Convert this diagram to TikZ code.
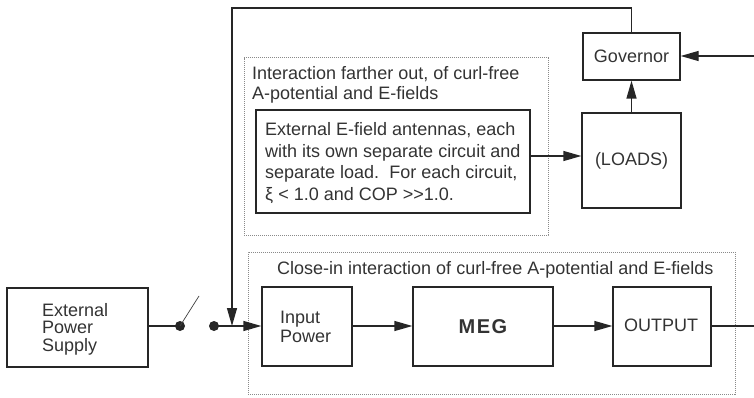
\documentclass[tikz,border=0pt]{standalone}
\usepackage{fontspec}
\setmainfont{Liberation Sans}
\usetikzlibrary{arrows.meta}
\definecolor{ink}{HTML}{333333}
\definecolor{dotc}{HTML}{8A8A8A}
\tikzset{
  blk/.style={draw=black!85, line width=1.3pt, inner sep=0pt},
  zone/.style={draw=dotc, line width=1pt, dash pattern=on 1.2pt off 0.8pt, inner sep=0pt},
  lbl/.style={text=ink, font=\fontsize{18}{21.7}\selectfont, inner sep=0pt, align=left},
  wire/.style={draw=black!85, line width=1.3pt},
  arr/.style={wire, -{Triangle[length=18pt,width=10pt]}},
  dotn/.style={circle, fill=black!85, minimum size=10pt, inner sep=0pt},
}
\begin{document}
\begin{tikzpicture}[x=1pt,y=-1pt]
\useasboundingbox (0,0) rectangle (754,398);
% zones
\node[zone, minimum width=304pt, minimum height=177pt] (far) at (396,146.5) {};
\node[zone, minimum width=487pt, minimum height=142pt] (close) at (491.5,323) {};
\node[lbl, font=\fontsize{18}{20}\selectfont, anchor=west] (fart) at (252,85) {Interaction farther out, of curl-free\\A-potential and E-fields};
\node[lbl, anchor=west] (closet) at (277,270) {Close-in interaction of curl-free A-potential and E-fields};
% boxes
\node[blk, minimum width=274pt, minimum height=103pt] (ant) at (393,161.5) {};
\node[lbl, anchor=west] (antt) at (265,163) {External E-field antennas, each\\with its own separate circuit and\\separate load.\ \ For each circuit,\\ξ < 1.0 and COP >{}>1.0.};
\node[blk, minimum width=97pt, minimum height=47pt] (gov) at (631.5,56.5) {};
\node[lbl] (govt) at (gov.center) {Governor};
\node[blk, minimum width=99pt, minimum height=95pt] (loads) at (631.5,160.5) {};
\node[lbl] (loadst) at (loads.center) {(LOADS)};
\node[blk, minimum width=90pt, minimum height=79pt] (inp) at (307,326.5) {};
\node[lbl, font=\fontsize{18}{19}\selectfont, anchor=west] (inpt) at (280,327) {Input\\Power};
\node[blk, minimum width=140pt, minimum height=79pt] (meg) at (483,326.5) {};
\node[lbl, font=\fontsize{20}{22}\selectfont\bfseries] (megt) at (meg.center) {M\kern1.5pt E\kern1.5pt G};
\node[blk, minimum width=98pt, minimum height=79pt] (out) at (662,326.5) {};
\node[lbl] (outt) at (661,325) {OUTPUT};
\node[blk, minimum width=141pt, minimum height=79pt] (eps) at (77.5,327.5) {};
\node[lbl, font=\fontsize{18}{17.5}\selectfont, anchor=west] (epst) at (42,329) {External\\Power\\Supply};
% switch
\node[dotn] (d1) at (180,326) {};
\node[dotn] (d2) at (214,326) {};
\coordinate (sw) at (199,296);
\coordinate (fbtop) at (232,8);
\coordinate (fbr) at (631.5,8);
\coordinate (fbj) at (232,326);
\coordinate (rin) at (754,56);
\coordinate (rout) at (754,326);
% connectors
\draw[wire] (eps.east |- d1) -- (d1.center);
\draw[line width=0.7pt, draw=black!75] (d1.center) -- (sw);
\draw[arr] (d2.center) -- (inp.west |- d2);
\draw[arr] (gov.north) -- (fbr) -- (fbtop) -- (fbj);
\draw[arr] (rin) -- (gov.east |- rin);
\draw[arr] (loads.north) -- (gov.south);
\draw[arr] (ant.east |- 0,156) -- (loads.west |- 0,156);
\draw[arr] (inp.east |- 0,326) -- (meg.west |- 0,326);
\draw[arr] (meg.east |- 0,326) -- (out.west |- 0,326);
\draw[wire] (out.east |- 0,326) -- (rout);
\end{tikzpicture}
\end{document}
